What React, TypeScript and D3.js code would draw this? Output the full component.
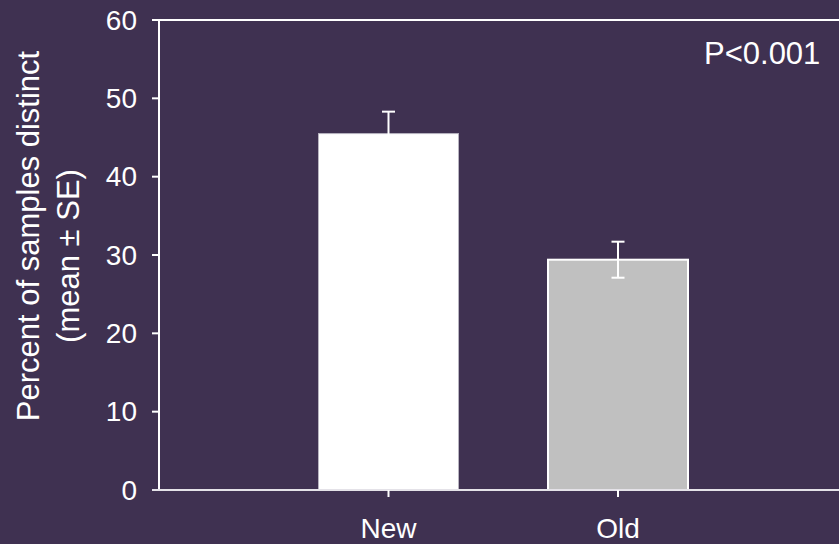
import React from "react";
import * as d3 from "d3";

const categories = ["New", "Old"];
const means = [45.5, 29.4];
const errors = [2.8, 2.3];
const yTicks = [0, 10, 20, 30, 40, 50, 60];
const annotation = "P<0.001";
const titleLines = ["Percent of samples distinct", "(mean \u00B1 SE)"];

const W = 839;
const H = 544;
const BG = "#3F3151";
const FONT = "'Liberation Sans', Arial, sans-serif";

export default function App() {
  const x0 = 159;
  const y = d3.scaleLinear().domain([0, 60]).range([490, 20]);
  const x = d3
    .scalePoint<string>()
    .domain(categories)
    .range([x0, x0 + 229.5 * 3])
    .padding(1);
  const barW = 140;
  const capW = 13;

  return (
    <div style={{ position: "fixed", left: 0, top: 0, width: W, height: H }}>
      <svg width={W} height={H} style={{ display: "block", background: BG }}>
        <rect x={0} y={0} width={W} height={H} fill={BG} />

        {/* bars */}
        {categories.map((c, i) => {
          const cx = x(c)!;
          const isNew = i === 0;
          return (
            <g key={c}>
              <rect
                x={cx - barW / 2}
                y={y(means[i])}
                width={barW}
                height={y(0) - y(means[i])}
                fill={isNew ? "#ffffff" : "#c0c0c0"}
                stroke={isNew ? "#b8b4c0" : "#ffffff"}
                strokeWidth={isNew ? 1 : 2}
              />
              <line
                x1={cx}
                x2={cx}
                y1={y(means[i] + errors[i])}
                y2={y(means[i] - errors[i])}
                stroke="#ffffff"
                strokeWidth={2}
              />
              <line
                x1={cx - capW / 2}
                x2={cx + capW / 2}
                y1={y(means[i] + errors[i])}
                y2={y(means[i] + errors[i])}
                stroke="#ffffff"
                strokeWidth={2}
              />
              <line
                x1={cx - capW / 2}
                x2={cx + capW / 2}
                y1={y(means[i] - errors[i])}
                y2={y(means[i] - errors[i])}
                stroke="#ffffff"
                strokeWidth={2}
              />
            </g>
          );
        })}

        {/* top frame line */}
        <line x1={152} x2={W} y1={y(60)} y2={y(60)} stroke="#ffffff" strokeWidth={2} />

        {/* y axis */}
        <line x1={x0} x2={x0} y1={y(60)} y2={y(0)} stroke="#ffffff" strokeWidth={2} />
        {yTicks.map((t) => (
          <g key={t}>
            <line x1={152} x2={x0} y1={y(t)} y2={y(t)} stroke="#ffffff" strokeWidth={2} />
            <text
              x={137}
              y={y(t)}
              dy="0.35em"
              textAnchor="end"
              fill="#ffffff"
              fontFamily={FONT}
              fontSize={28}
            >
              {t}
            </text>
          </g>
        ))}

        {/* x axis */}
        <line x1={152} x2={W} y1={y(0)} y2={y(0)} stroke="#e4e2e8" strokeWidth={2} />
        {categories.map((c) => (
          <g key={c}>
            <line
              x1={x(c)!}
              x2={x(c)!}
              y1={y(0)}
              y2={y(0) + 7}
              stroke="#ffffff"
              strokeWidth={2}
            />
            <text
              x={x(c)!}
              y={538}
              textAnchor="middle"
              fill="#ffffff"
              fontFamily={FONT}
              fontSize={28}
            >
              {c}
            </text>
          </g>
        ))}

        {/* axis title */}
        <text
          transform="translate(39,236) rotate(-90)"
          textAnchor="middle"
          fill="#ffffff"
          fontFamily={FONT}
          fontSize={31}
        >
          {titleLines[0]}
        </text>
        <text
          transform="translate(79,256) rotate(-90)"
          textAnchor="middle"
          fill="#ffffff"
          fontFamily={FONT}
          fontSize={31}
        >
          {titleLines[1]}
        </text>

        {/* significance note */}
        <text x={704} y={64} fill="#ffffff" fontFamily={FONT} fontSize={31}>
          {annotation}
        </text>
      </svg>
    </div>
  );
}
